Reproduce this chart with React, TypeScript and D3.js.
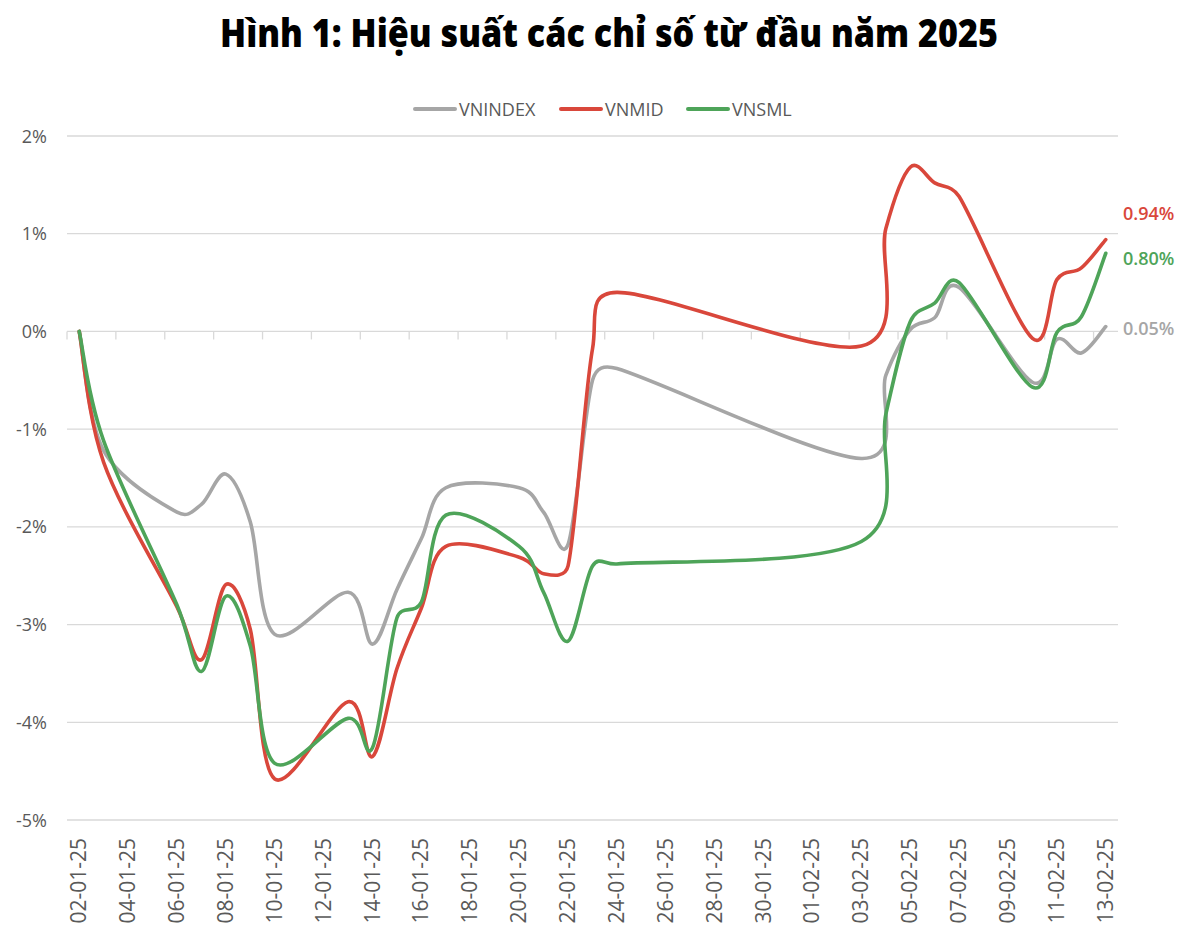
import React from "react";
import * as d3 from "d3";

const TITLE = "Hình 1: Hiệu suất các chỉ số từ đầu năm 2025";

const dates = [
  "2025-01-02", "2025-01-03", "2025-01-06", "2025-01-07", "2025-01-08", "2025-01-09",
  "2025-01-10", "2025-01-13", "2025-01-14", "2025-01-15", "2025-01-16", "2025-01-17",
  "2025-01-20", "2025-01-21", "2025-01-22", "2025-01-23", "2025-01-24", "2025-02-03",
  "2025-02-04", "2025-02-05", "2025-02-06", "2025-02-07", "2025-02-10", "2025-02-11",
  "2025-02-12", "2025-02-13",
];

const vnindex = [
  0, -1.22, -1.85, -1.77, -1.46, -1.95, -3.1, -2.67, -3.2, -2.64, -2.12, -1.6,
  -1.6, -1.85, -2.18, -0.5, -0.38, -1.3, -0.45, 0.02, 0.14, 0.45, -0.52, -0.08,
  -0.22, 0.05,
];

const vnmid = [
  0, -1.34, -2.82, -3.36, -2.59, -3.05, -4.58, -3.79, -4.35, -3.45, -2.83, -2.2,
  -2.31, -2.48, -2.4, -0.18, 0.4, -0.15, 1.05, 1.68, 1.52, 1.38, -0.07, 0.53,
  0.65, 0.94,
];

const vnsml = [
  0, -1.12, -2.8, -3.48, -2.71, -3.22, -4.42, -3.96, -4.26, -2.93, -2.77, -1.88,
  -2.2, -2.67, -3.17, -2.4, -2.38, -2.15, -0.85, 0.1, 0.29, 0.5, -0.57, -0.01,
  0.15, 0.8,
];

const seriesNames = ["VNINDEX", "VNMID", "VNSML"];
const seriesColors = ["#a6a6a6", "#d9473b", "#4ea459"];
const endLabels = ["0.05%", "0.94%", "0.80%"];

const yTicks = [2, 1, 0, -1, -2, -3, -4, -5];

const DAY = 86400000;
const parse = (s: string) => new Date(s + "T00:00:00Z");

// Excel-style smoothed line: Bezier with 1/6 tangents, arms capped at half the segment length
function smoothPath(pts: [number, number][]) {
  const p = d3.path();
  const n = pts.length;
  const dist = (a: [number, number], b: [number, number]) => Math.hypot(b[0] - a[0], b[1] - a[1]);
  p.moveTo(pts[0][0], pts[0][1]);
  for (let i = 0; i < n - 1; i++) {
    const P0 = pts[Math.max(0, i - 1)];
    const P1 = pts[i];
    const P2 = pts[i + 1];
    const P3 = pts[Math.min(n - 1, i + 2)];
    const d12 = dist(P1, P2);
    let ax = (P2[0] - P0[0]) / 6;
    let ay = (P2[1] - P0[1]) / 6;
    let bx = (P3[0] - P1[0]) / 6;
    let by = (P3[1] - P1[1]) / 6;
    const la = Math.hypot(ax, ay);
    const lb = Math.hypot(bx, by);
    if (la > d12 / 2 && la > 0) {
      const s = d12 / 2 / la;
      ax *= s;
      ay *= s;
    }
    if (lb > d12 / 2 && lb > 0) {
      const s = d12 / 2 / lb;
      bx *= s;
      by *= s;
    }
    p.bezierCurveTo(P1[0] + ax, P1[1] + ay, P2[0] - bx, P2[1] - by, P2[0], P2[1]);
  }
  return p.toString();
}

export default function App() {
  const W = 1190;
  const H = 936;
  const start = parse("2025-01-02");
  const end = parse("2025-02-13");

  const x = d3
    .scaleUtc()
    .domain([new Date(+start - DAY / 2), new Date(+end + DAY / 2)])
    .range([67, 1118]);
  const y = d3.scaleLinear().domain([-5, 2]).range([820, 136]);

  const allSeries = [vnindex, vnmid, vnsml];

  const labelDays = d3.utcDay.range(start, new Date(+end + DAY), 1).filter((_, i) => i % 2 === 0);
  const tickBounds = d3.range(0, 22).map((k) => new Date(+start - DAY / 2 + k * 2 * DAY));

  const font = "'Open Sans', 'Noto Sans', sans-serif";

  return (
    <svg width={W} height={H} style={{ display: "block", position: "absolute", left: 0, top: 0 }}>
      <rect width={W} height={H} fill="#ffffff" />
      <text
        x={609}
        y={47}
        textAnchor="middle"
        fontFamily={font}
        fontWeight={800}
        fontSize={38}
        textLength={778}
        lengthAdjust="spacingAndGlyphs"
        fill="#000"
      >
        {TITLE}
      </text>

      {/* legend */}
      {seriesNames.map((n, i) => {
        const lx = [415, 561, 688][i];
        return (
          <g key={n}>
            <line x1={lx} x2={lx + 40} y1={109} y2={109} stroke={seriesColors[i]} strokeWidth={4} strokeLinecap="round" />
            <text x={lx + 44} y={115.5} fontFamily={font} fontSize={18} fill="#595959">
              {n}
            </text>
          </g>
        );
      })}

      {/* gridlines + y labels */}
      {yTicks.map((t) => (
        <g key={t}>
          <line x1={67} x2={1118} y1={y(t)} y2={y(t)} stroke="#d9d9d9" strokeWidth={1.3} />
          <text x={47} y={y(t) + 6.5} textAnchor="end" fontFamily={font} fontSize={18} fill="#595959">
            {t + "%"}
          </text>
        </g>
      ))}

      {/* x tick marks on 0% axis */}
      {tickBounds.map((d, i) => (
        <line key={i} x1={x(d)} x2={x(d)} y1={y(0)} y2={y(0) + 8} stroke="#d9d9d9" strokeWidth={1.3} />
      ))}

      {/* x labels */}
      {labelDays.map((d, i) => (
        <text
          key={i}
          transform={`translate(${x(d) + 7},838) rotate(-90)`}
          textAnchor="end"
          fontFamily={font}
          fontSize={21}
          fill="#595959"
        >
          {d3.utcFormat("%d-%m-%y")(d)}
        </text>
      ))}

      {/* lines */}
      {allSeries.map((vals, i) => {
        const pts: [number, number][] = dates.map((s, j) => [x(parse(s)), y(vals[j])]);
        return (
          <path
            key={i}
            d={smoothPath(pts)}
            fill="none"
            stroke={seriesColors[i]}
            strokeWidth={3.6}
            strokeLinejoin="round"
            strokeLinecap="round"
          />
        );
      })}

      {/* end labels */}
      {[
        { i: 1, ly: 213 },
        { i: 2, ly: 258 },
        { i: 0, ly: 328 },
      ].map(({ i, ly }) => (
        <text key={i} x={1123} y={ly + 6.5} fontFamily={font} fontSize={18} fontWeight={600} fill={seriesColors[i]}>
          {endLabels[i]}
        </text>
      ))}
    </svg>
  );
}
